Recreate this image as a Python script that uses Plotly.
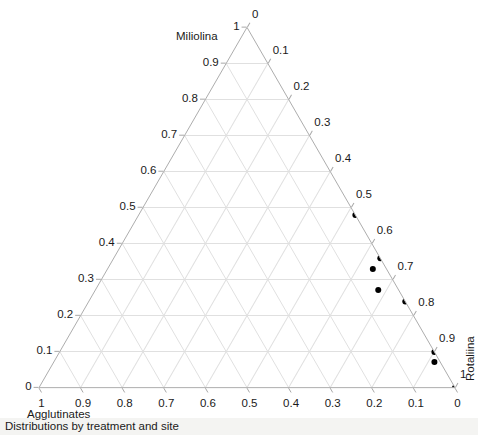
import plotly.graph_objects as go

# Ternary composition (Miliolina, Agglutinates, Rotaliina)
miliolina    = [0.479, 0.359, 0.329, 0.271, 0.239, 0.099, 0.071, 0.0]
agglutinates = [0.0,   0.0,   0.033, 0.049, 0.0,   0.0,   0.014, 0.0]
rotaliina    = [0.521, 0.641, 0.638, 0.680, 0.761, 0.901, 0.915, 1.0]

title_text = "Distributions by treatment and site"

FONT = "Liberation Sans, Arial, Helvetica, sans-serif"
TEXT = "#1a1a1a"
W, H = 478, 435
ML, MR, MT, MB = 39, 478 - 455, 27, 435 - 388

def px_x(x):
    return (x - ML) / (W - ML - MR)

def px_y(y):
    return (H - MB - y) / (H - MT - MB)

def axis(**extra):
    d = dict(
        title=dict(text=""),
        ticks="outside", ticklen=5, tickcolor="#a8a8a8",
        dtick=0.1, tick0=0,
        linecolor="#adadad", linewidth=1,
        gridcolor="#e0e0e0", gridwidth=1,
        tickfont=dict(family=FONT, size=11.5, color=TEXT),
        showgrid=True, showline=True,
    )
    d.update(extra)
    return d

fig = go.Figure()
fig.add_trace(go.Scatterternary(
    a=miliolina, b=agglutinates, c=rotaliina,
    mode="markers",
    marker=dict(size=6, color="black", line=dict(width=0)),
    showlegend=False,
))

label_font = dict(family=FONT, size=11.5, color=TEXT)

fig.update_layout(
    width=W, height=H,
    margin=dict(l=ML, r=MR, t=MT, b=MB),
    paper_bgcolor="white",
    font=dict(family=FONT, size=11.5, color=TEXT),
    ternary=dict(
        sum=1,
        bgcolor="white",
        domain=dict(x=[0, 1], y=[0, 1]),
        aaxis=axis(),
        baxis=axis(),
        caxis=axis(ticksuffix="<br> "),
    ),
    shapes=[dict(
        type="rect", xref="paper", yref="paper",
        x0=px_x(0), x1=px_x(W), y0=px_y(418), y1=px_y(H),
        fillcolor="#f4f4f2", line=dict(width=0), layer="below",
    )],
    annotations=[
        dict(text="Miliolina", xref="paper", yref="paper",
             x=px_x(197), y=px_y(36), xanchor="center", yanchor="middle",
             showarrow=False, font=label_font),
        dict(text="Agglutinates", xref="paper", yref="paper",
             x=px_x(59), y=px_y(414), xanchor="center", yanchor="middle",
             showarrow=False, font=label_font),
        dict(text="Rotaliina", xref="paper", yref="paper",
             x=px_x(470), y=px_y(359), xanchor="center", yanchor="middle",
             showarrow=False, textangle=-90, font=label_font),
        dict(text=title_text, xref="paper", yref="paper",
             x=px_x(3), y=px_y(426), xanchor="left", yanchor="middle",
             showarrow=False, font=label_font),
    ],
)

fig.write_html("out.html", config={"displayModeBar": False},
               post_script="document.body.style.margin='0';")
